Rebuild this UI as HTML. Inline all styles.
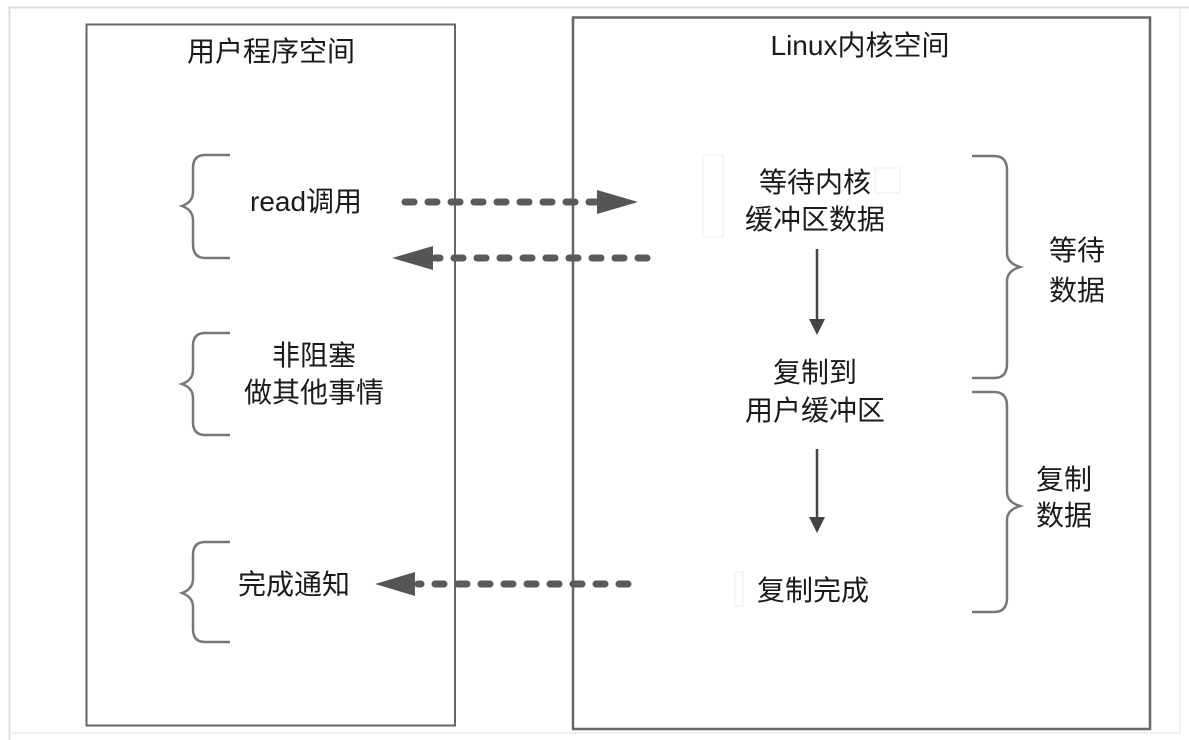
<!DOCTYPE html>
<html><head><meta charset="utf-8"><style>
html,body{margin:0;padding:0;background:#fff;}
svg{display:block;}
text{font-family:"Liberation Sans","Noto Sans CJK SC",sans-serif;fill:#1a1a1a;}
</style></head><body>
<svg width="1189" height="740" viewBox="0 0 1189 740" xmlns="http://www.w3.org/2000/svg">
<rect x="0" y="0" width="1189" height="740" fill="#fff"/>
<path d="M9.5 740 V7.5 H1189" fill="none" stroke="#ddd" stroke-width="2"/>
<path d="M1180 7 V733 H9" fill="none" stroke="#eee" stroke-width="1.5"/>
<rect x="86.5" y="24.5" width="368.5" height="701" fill="none" stroke="#666" stroke-width="2"/>
<rect x="573" y="17.5" width="577" height="711.5" fill="none" stroke="#666" stroke-width="2.5"/>
<g font-size="28" text-anchor="middle">
<text x="271" y="61">用户程序空间</text>
<text x="860" y="55">Linux内核空间</text>
</g>
<g font-size="28">
<text x="250" y="211">read调用</text>
<text x="314" y="365" text-anchor="middle">非阻塞</text>
<text x="314" y="402" text-anchor="middle">做其他事情</text>
<text x="238" y="594">完成通知</text>
<text x="815" y="192" text-anchor="middle">等待内核</text>
<text x="815" y="229" text-anchor="middle">缓冲区数据</text>
<text x="815" y="382" text-anchor="middle">复制到</text>
<text x="815" y="420" text-anchor="middle">用户缓冲区</text>
<text x="757" y="600">复制完成</text>
<text x="1077" y="260" text-anchor="middle">等待</text>
<text x="1077" y="300" text-anchor="middle">数据</text>
<text x="1064" y="489" text-anchor="middle">复制</text>
<text x="1064" y="525" text-anchor="middle">数据</text>
</g>
<rect x="703" y="155" width="20" height="82" fill="none" stroke="#eee" stroke-width="1"/>
<rect x="875" y="168" width="25" height="25" fill="none" stroke="#eee" stroke-width="1"/>
<rect x="735" y="572" width="8" height="34" fill="none" stroke="#eee" stroke-width="1"/>
<g stroke="#5a5a5a" stroke-width="7" stroke-linecap="round" stroke-dasharray="9 14" fill="none">
<line x1="405" y1="202" x2="600" y2="202"/>
<line x1="647" y1="258" x2="435" y2="258"/>
<line x1="628" y1="584" x2="418" y2="584"/>
</g>
<g fill="#555">
<polygon points="597,190 638,202 597,214"/>
<polygon points="433,246 392,258 433,270"/>
<polygon points="415,572 375,584 415,596"/>
</g>
<g stroke="#444" stroke-width="2.5"><line x1="817" y1="249" x2="817" y2="322"/><line x1="817" y1="449" x2="817" y2="520"/></g>
<g fill="#444"><polygon points="809,319 825,319 817,335"/><polygon points="809,517 825,517 817,533"/></g>
<g fill="none" stroke="#777" stroke-width="2.5">
<path d="M230 155 H205 Q193 155 193 168 V192 Q193 202 182 206 Q193 210 193 220 V244 Q193 258 205 258 H230"/>
<path d="M230 333 H205 Q193 333 193 346 V370 Q193 380 182 384 Q193 388 193 398 V422 Q193 435 205 435 H230"/>
<path d="M230 542 H205 Q193 542 193 555 V579 Q193 589 182 593 Q193 597 193 607 V629 Q193 642 205 642 H230"/>
<path d="M972 156 H994 Q1007 156 1007 170 V253 Q1007 263 1020 267 Q1007 271 1007 281 V364 Q1007 378 994 378 H972"/>
<path d="M972 392 H994 Q1007 392 1007 406 V492 Q1007 502 1020 506 Q1007 510 1007 520 V598 Q1007 612 994 612 H972"/>
</g>
</svg>
</body></html>
